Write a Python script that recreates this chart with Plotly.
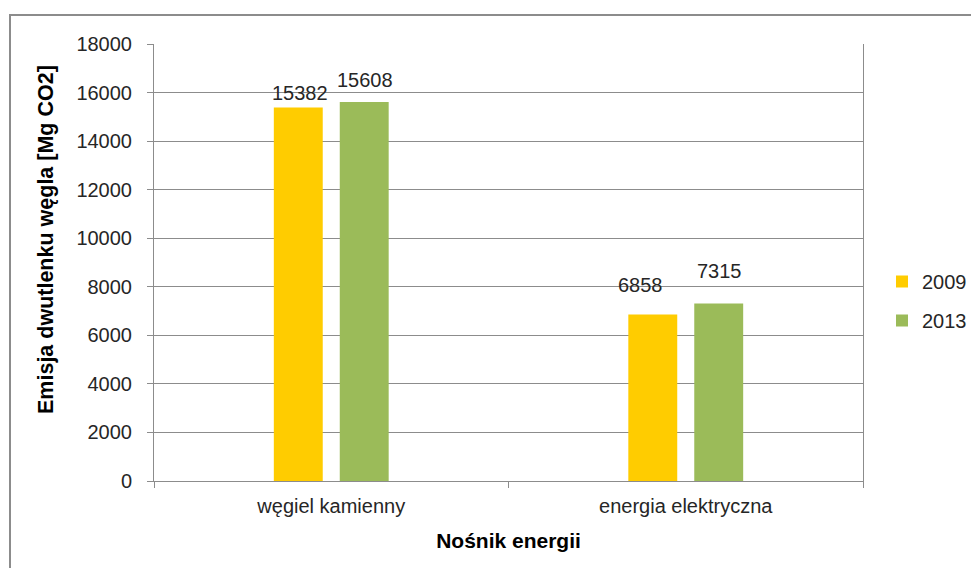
import plotly.graph_objects as go

categories = ["węgiel kamienny", "energia elektryczna"]
series_names = ["2009", "2013"]
values_2009 = [15382, 6858]
values_2013 = [15608, 7315]
y_ticks = [0, 2000, 4000, 6000, 8000, 10000, 12000, 14000, 16000, 18000]

colors = {"2009": "#FFCC00", "2013": "#9BBB59"}
FONT = "Liberation Sans, Arial, sans-serif"
FS = 20
TXT = "#262626"
GRID = "#8C8C8C"

# page has an 8px body margin on every side: figure occupies x 8..971, y 8..568
OFF = 8
W, H = 979 - 2 * OFF, 576 - 2 * OFF
PL, PR, PT, PB = 154 - OFF, 863 - OFF, 44 - OFF, 481 - OFF  # plot area in figure px
L, R, T, B = PL, W - PR, PT, H - PB
pw = PR - PL
ph = PB - PT

fig = go.Figure()
for name, vals in zip(series_names, [values_2009, values_2013]):
    fig.add_trace(go.Bar(
        x=categories, y=vals, name=name, legendgroup=name,
        marker=dict(color=colors[name], line=dict(width=0)),
    ))

# data labels (manually placed like the source)
label_shift = {
    ("2009", 0): (-31.5, 15), ("2013", 0): (33.5, 22),
    ("2009", 1): (-45.5, 29.5), ("2013", 1): (33.5, 32),
}
for name, vals in zip(series_names, [values_2009, values_2013]):
    for i, (c, v) in enumerate(zip(categories, vals)):
        xs, ys = label_shift[(name, i)]
        fig.add_annotation(
            x=c, y=v, xref="x", yref="y", text=str(v), showarrow=False,
            xshift=xs, yshift=ys, yanchor="middle", xanchor="center",
            font=dict(family=FONT, size=FS, color=TXT),
        )

# y-axis title (placed like the source, slightly above centre)
fig.add_annotation(
    text="<b>Emisja dwutlenku węgla [Mg CO2]</b>", textangle=-90, showarrow=False,
    xref="paper", yref="paper", x=(46 - 154) / pw, y=(481 - 240) / ph,
    xanchor="center", yanchor="middle",
    font=dict(family=FONT, size=21.5, color="#000000"),
)

# chart border (cropped at right/bottom in the source)
fig.add_shape(
    type="rect", xref="paper", yref="paper",
    x0=(10 - 154) / pw, x1=2.0,
    y0=-1.0, y1=1 + (44 - 15) / ph,
    line=dict(color="#8C8C8C", width=2), fillcolor="rgba(0,0,0,0)", layer="below",
)

fig.update_layout(
    width=W, height=H,
    margin=dict(l=L, r=R, t=T, b=B, pad=0, autoexpand=False),
    paper_bgcolor="white", plot_bgcolor="white",
    barmode="group", bargap=0.628, bargroupgap=0.258,
    font=dict(family=FONT, size=FS, color=TXT),
    showlegend=True,
    legend=dict(
        x=(882 - 154) / pw, xanchor="left", y=(481 - 262) / ph, yanchor="top",
        font=dict(family=FONT, size=FS, color=TXT),
        tracegroupgap=10, bgcolor="rgba(0,0,0,0)", itemwidth=30,
    ),
    xaxis=dict(
        showline=True, linecolor=GRID, linewidth=1,
        ticks="outside", tickson="boundaries", ticklen=6, tickcolor=GRID,
        ticklabelstandoff=7,
        showgrid=False, tickfont=dict(family=FONT, size=FS, color=TXT),
        title=dict(text="<b>Nośnik energii</b>", font=dict(family=FONT, size=21, color="#000000"), standoff=17),
    ),
    yaxis=dict(
        range=[0, 18000], tickvals=y_ticks, ticktext=[str(t) for t in y_ticks],
        showline=True, mirror=True, linecolor=GRID, linewidth=1,
        ticks="outside", ticklen=6, tickcolor=GRID,
        ticklabelstandoff=11,
        showgrid=True, gridcolor=GRID, gridwidth=1, zeroline=False,
        tickfont=dict(family=FONT, size=FS, color=TXT),
    ),
)

fig.write_html("out.html")
